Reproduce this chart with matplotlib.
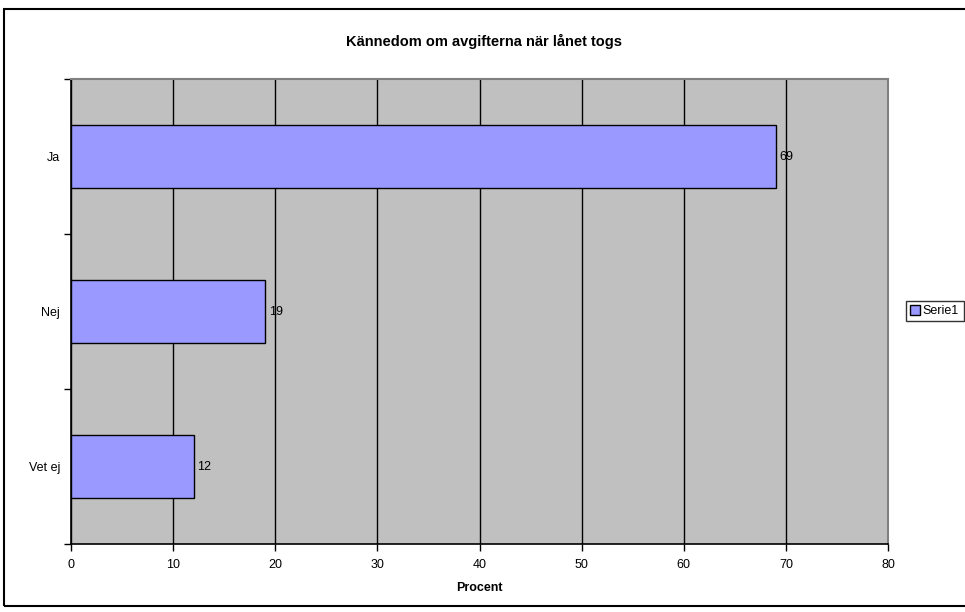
import matplotlib.pyplot as plt
import matplotlib.patches as patches
import numpy as np

plt.rcParams['font.family'] = ['Liberation Sans', 'DejaVu Sans']

categories = ["Ja", "Nej", "Vet ej"]
values = [69, 19, 12]
series_name = "Serie1"
x_ticks = [0, 10, 20, 30, 40, 50, 60, 70, 80]

fig = plt.figure(figsize=(9.65, 6.12), dpi=100)
ax = fig.add_axes([71 / 965, 68 / 612, 817 / 965, 465 / 612])
ax.set_facecolor('#C0C0C0')

y = np.arange(len(categories))
bars = ax.barh(y, values, height=0.41, color='#9999FF', edgecolor='black',
               linewidth=1, label=series_name, zorder=3)

for yi, v in zip(y, values):
    ax.text(v + 0.35, yi, str(v), va='center', ha='left', fontsize=9, zorder=4)

ax.set_xlim(0, 80)
ax.set_ylim(len(categories) - 0.5, -0.5)
ax.set_xticks(x_ticks)
ax.set_xticklabels([str(t) for t in x_ticks], fontsize=9)
ax.set_yticks(y)
ax.set_yticklabels(categories, fontsize=9)
ax.tick_params(axis='y', which='major', length=0, pad=8)
ax.set_yticks(np.arange(-0.5, len(categories), 1.0), minor=True)
ax.tick_params(axis='y', which='minor', length=5, width=1, direction='out')
ax.tick_params(axis='x', which='major', length=5, width=1, direction='out', pad=6)

ax.grid(axis='x', color='black', linewidth=1, zorder=1)
ax.set_axisbelow(True)

for side in ['top', 'right']:
    ax.spines[side].set_color('#808080')
    ax.spines[side].set_linewidth(1.5)
for side in ['left', 'bottom']:
    ax.spines[side].set_color('black')
    ax.spines[side].set_linewidth(1.2)

ax.set_xlabel("Procent", fontsize=9, fontweight='bold', labelpad=8)
fig.text(484 / 965, 1 - 41 / 612, "Kännedom om avgifterna när lånet togs",
         ha='center', va='center', fontsize=10.5, fontweight='bold')

# outer chart border
border = patches.Rectangle((4 / 965, 6 / 612), 1.0, 597 / 612,
                           transform=fig.transFigure, fill=False,
                           edgecolor='black', linewidth=1.5, clip_on=False)
fig.patches.append(border)

leg = ax.legend(loc='center left', bbox_to_anchor=(906 / 965, 1 - 311 / 612),
                bbox_transform=fig.transFigure, fontsize=9, frameon=True,
                fancybox=False, borderpad=0.35, handlelength=0.8,
                handleheight=0.8, handletextpad=0.2, borderaxespad=0)
leg.get_frame().set_edgecolor('black')
leg.get_frame().set_linewidth(1)

fig.savefig("out.png", dpi=100)
